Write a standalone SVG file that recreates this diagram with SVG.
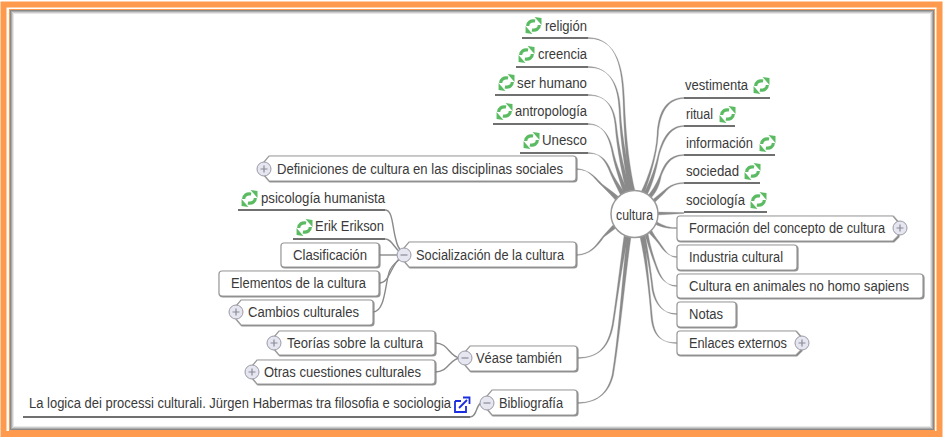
<svg xmlns="http://www.w3.org/2000/svg" width="945" height="441" viewBox="0 0 945 441">
<style>
text{font-family:"Liberation Sans",Arial,sans-serif;font-size:14px;fill:#3a3a3a}
.b{fill:#fff;stroke:#999;stroke-width:1.2;filter:url(#sh)}
.u{stroke:#707070;stroke-width:2;fill:none}
.c{fill:#8a8a8a;stroke:#8a8a8a;stroke-width:.3}
.l{fill:none;stroke:#8a8a8a;stroke-width:1.4}
.t{fill:#e6e6f0;stroke:#9a9aa8;stroke-width:1}
.m{stroke:#8a8a98;stroke-width:1.2;fill:none}
</style>
<defs>
<filter id="sh" x="-5%" y="-10%" width="110%" height="125%"><feDropShadow dx=".8" dy=".8" stdDeviation=".3" flood-color="#777"/></filter>
<symbol id="r" viewBox="0 0 16 16">
<path d="M2.500 8.500C2.500 5 5.500 3 9.500 3.800" fill="none" stroke="#5abb62" stroke-width="3"/>
<path d="M13.500 7.500C13.500 11 10.500 13 6.500 12.200" fill="none" stroke="#5abb62" stroke-width="3"/>
<path d="M9 0L15.500 1V7.500Z" fill="#5abb62"/>
<path d="M7 16L.5 15V8.500Z" fill="#5abb62"/>
</symbol>
<g id="plus"><circle r="7" class="t"/><path class="m" d="M-3.500 0H3.500M0-3.500V3.500"/></g>
<g id="minus"><circle r="7" class="t"/><path class="m" d="M-3.500 0H3.500"/></g>
</defs>
<rect width="945" height="441" fill="#fff"/>
<g id="frame" fill="none">
<rect x="3.500" y="4.500" width="936" height="429.500" stroke="#fd9a4d" stroke-width="6"/>
<rect x="9.500" y="9.500" width="925" height="421" stroke="#fd9a4d" stroke-width="1"/>
<rect x="10.500" y="10.500" width="923" height="419" stroke="#888" stroke-width="1"/>
<rect x="11.500" y="11.500" width="921" height="417" stroke="#aaa" stroke-width="1"/>
<rect x="12.500" y="12.500" width="919" height="415" stroke="#ccc" stroke-width="1"/>
<rect x="13.500" y="13.500" width="917" height="413" stroke="#e8e8e8" stroke-width="1"/>
</g>
<g id="connectors">
<path class="c" d="M588 37.500C618 38 622 70 623 100C624 140 627 170 631 192L635 191C630 170 626 140 624.500 100C623.500 70 618 38 588 38.500Z"/>
<path class="c" d="M588 66.500C610 67 618 85 619 110C620 140 625 170 629 193L633 191C629 170 622 140 620.500 110C619.500 85 610 67 588 67.500Z"/>
<path class="c" d="M588 94.500C605 95 613 105 615 125C617 150 622 175 627 194L631 192C626 175 619 150 616.500 125C614.500 105 605 95 588 95.500Z"/>
<path class="c" d="M588 123.500C602 124 608 135 611 148C614 165 620 182 625 197L629 195C624 182 616 165 612.500 148C609.500 135 602 124 588 124.500Z"/>
<path class="c" d="M588 152.500C600 153 604 160 608 168C612 178 617 188 622 198L626 195C620 186 613 176 609.500 167C605.500 159 600 153 588 153.500Z"/>
<path class="c" d="M576 168.500C590 169 595 180 602 186C608 192 612 196 617 202L620 198C614 193 609 189 603 184.800C596 178 590 169 576 169.500Z"/>
<path class="c" d="M576 254.500C590 255 596 245 603 236L613 225L616 228L604 237C597 247 590 255 576 255.500Z"/>
<path class="c" d="M577 357.500C600 358 608 345 612 325C616 300 620 265 624 236L628 237C622 265 617.500 300 613.500 325C609.500 346 600 358 577 358.500Z"/>
<path class="c" d="M577 402.500C600 403 608 390 612 375C618 340 622 280 627 236L631 237C625 280 619.500 340 613.500 375C609.500 391 600 403 577 403.500Z"/>
<path class="c" d="M677 342.500C660 343 653 335 651 318C649 290 645 260 640 237L644 235C647 260 650 290 652.500 318C654.500 334 660 343 677 343.500Z"/>
<path class="c" d="M677 313.500C663 314 655 305 652 290C650 270 646 250 642 236L645 234C648 250 651 270 653.500 290C656.500 304 663 314 677 314.500Z"/>
<path class="c" d="M677 285.500C665 286 659 277 655 265C651 255 648 245 645 235L648 233C650 245 653 255 656.500 265C660.500 276 665 286 677 286.500Z"/>
<path class="c" d="M677 256.500C668 257 663 250 658 243C654 238 650 234 648 232L651 229C653 233 656 238 659.300 242C664.500 249 668 257 677 257.500Z"/>
<path class="c" d="M677 227.500C668 228 662 225 654 220L653 223C660 227 668 229 677 228.500Z"/>
<path class="c" d="M684 212.500L657 212V215L684 213.500Z"/>
<path class="c" d="M684 182.500C672 183 668 187 662 192L651 201L653 204L663 194.500C669 188 672 184 684 183.500Z"/>
<path class="c" d="M684 154.500C668 155 664 165 660 175C656 185 651 192 647 197L650 199C656 193 659.500 186 661.300 176C665.500 166 670 156 684 155.500Z"/>
<path class="c" d="M684 125.500C668 126 662 140 658 155C654 172 648 185 644 193L647 195C652 186 656 172 659.300 155C663.500 141 670 127 684 126.500Z"/>
<path class="c" d="M684 97.500C664 98 658 115 657 135C656 155 648 178 641 192L644 194C650 178 657 155 658.300 135C659.500 116 666 99 684 98.500Z"/>
<path class="l" d="M385 210C393 210 392 226 396 240C397 245 399 249 402 252"/>
<path class="l" d="M385 239C392 239 393 247 401 253"/>
<path class="l" d="M379 255H401"/>
<path class="l" d="M379 283C390 283 390 266 401 257"/>
<path class="l" d="M373 312C386 312 385 280 390 270C393 264 397 261 402 258"/>
<path class="l" d="M435 343C449 343 449 357 460 358"/>
<path class="l" d="M435 372C449 372 449 359 460 358"/>
<path class="l" d="M470 417C477 417 476 405 481 403"/>
</g>
<g id="n-cultura"><circle cx="634.500" cy="214" r="23.500" fill="#fff" stroke="#999" stroke-width="1.500"/><text x="616" y="220" textLength="37" lengthAdjust="spacingAndGlyphs">cultura</text></g>
<g id="n-religion"><path class="u" d="M522 38H588"/><use href="#r" x="525" y="17" width="17" height="17"/><text x="545" y="31" textLength="42" lengthAdjust="spacingAndGlyphs">religión</text></g>
<g id="n-creencia"><path class="u" d="M516 67H588"/><use href="#r" x="518" y="46" width="17" height="17"/><text x="538" y="59" textLength="49" lengthAdjust="spacingAndGlyphs">creencia</text></g>
<g id="n-serhumano"><path class="u" d="M495 95H588"/><use href="#r" x="498" y="74" width="17" height="17"/><text x="517" y="88" textLength="70" lengthAdjust="spacingAndGlyphs">ser humano</text></g>
<g id="n-antropologia"><path class="u" d="M493 124H588"/><use href="#r" x="496" y="103" width="17" height="17"/><text x="515" y="116" textLength="72" lengthAdjust="spacingAndGlyphs">antropología</text></g>
<g id="n-unesco"><path class="u" d="M520 153H588"/><use href="#r" x="523" y="132" width="17" height="17"/><text x="542" y="145" textLength="45" lengthAdjust="spacingAndGlyphs">Unesco</text></g>
<g id="n-vestimenta"><path class="u" d="M684 98H770"/><use href="#r" x="753" y="77" width="17" height="17"/><text x="685" y="90" textLength="63" lengthAdjust="spacingAndGlyphs">vestimenta</text></g>
<g id="n-ritual"><path class="u" d="M684 126H735"/><use href="#r" x="719" y="106" width="17" height="17"/><text x="686" y="119" textLength="27" lengthAdjust="spacingAndGlyphs">ritual</text></g>
<g id="n-informacion"><path class="u" d="M684 155H775"/><use href="#r" x="759" y="135" width="17" height="17"/><text x="686" y="148" textLength="67" lengthAdjust="spacingAndGlyphs">información</text></g>
<g id="n-sociedad"><path class="u" d="M684 183H760"/><use href="#r" x="744" y="163" width="17" height="17"/><text x="686" y="176" textLength="53" lengthAdjust="spacingAndGlyphs">sociedad</text></g>
<g id="n-sociologia"><path class="u" d="M684 212H767"/><use href="#r" x="750" y="192" width="17" height="17"/><text x="686" y="205" textLength="59" lengthAdjust="spacingAndGlyphs">sociología</text></g>
<g id="n-formacion"><path class="b" d="M680 216H893L898 222V236L893 241H680Q677 241 677 238V219Q677 216 680 216Z"/><text x="689" y="233" textLength="196" lengthAdjust="spacingAndGlyphs">Formación del concepto de cultura</text><use href="#plus" x="900" y="228"/></g>
<g id="n-industria"><rect class="b" x="677" y="245" width="120" height="25" rx="3"/><text x="689" y="262" textLength="94" lengthAdjust="spacingAndGlyphs">Industria cultural</text></g>
<g id="n-animales"><rect class="b" x="677" y="274" width="246" height="24" rx="3"/><text x="689" y="291" textLength="220" lengthAdjust="spacingAndGlyphs">Cultura en animales no homo sapiens</text></g>
<g id="n-notas"><rect class="b" x="677" y="302" width="59" height="25" rx="3"/><text x="689" y="319" textLength="34" lengthAdjust="spacingAndGlyphs">Notas</text></g>
<g id="n-enlaces"><path class="b" d="M680 331H796L801 337V350L796 355H680Q677 355 677 352V334Q677 331 680 331Z"/><text x="689" y="348" textLength="98" lengthAdjust="spacingAndGlyphs">Enlaces externos</text><use href="#plus" x="802" y="343"/></g>
<g id="n-definiciones"><path class="b" d="M269 156H573Q576 156 576 159V178Q576 181 573 181H269L264 175V162Z"/><text x="277" y="174" textLength="286" lengthAdjust="spacingAndGlyphs">Definiciones de cultura en las disciplinas sociales</text><use href="#plus" x="264" y="169"/></g>
<g id="n-socializacion"><path class="b" d="M409 242H573Q576 242 576 245V264Q576 267 573 267H409L404 261V248Z"/><text x="416" y="260" textLength="148" lengthAdjust="spacingAndGlyphs">Socialización de la cultura</text><use href="#minus" x="404" y="255"/></g>
<g id="n-psicologia"><path class="u" d="M238 210H385"/><use href="#r" x="241" y="190" width="17" height="17"/><text x="261" y="203" textLength="124" lengthAdjust="spacingAndGlyphs">psicología humanista</text></g>
<g id="n-erik"><path class="u" d="M293 239H385"/><use href="#r" x="296" y="219" width="17" height="17"/><text x="315" y="231" textLength="69" lengthAdjust="spacingAndGlyphs">Erik Erikson</text></g>
<g id="n-clasificacion"><rect class="b" x="281" y="243" width="98" height="24" rx="3"/><text x="293" y="260" textLength="74" lengthAdjust="spacingAndGlyphs">Clasificación</text></g>
<g id="n-elementos"><rect class="b" x="219" y="271" width="160" height="25" rx="3"/><text x="231" y="288" textLength="135" lengthAdjust="spacingAndGlyphs">Elementos de la cultura</text></g>
<g id="n-cambios"><path class="b" d="M241 300H370Q373 300 373 303V322Q373 325 370 325H241L236 319V306Z"/><text x="248" y="317" textLength="111" lengthAdjust="spacingAndGlyphs">Cambios culturales</text><use href="#plus" x="236" y="312"/></g>
<g id="n-teorias"><path class="b" d="M279 331H432Q435 331 435 334V352Q435 355 432 355H279L274 349V337Z"/><text x="287" y="348" textLength="136" lengthAdjust="spacingAndGlyphs">Teorías sobre la cultura</text><use href="#plus" x="274" y="343"/></g>
<g id="n-otras"><path class="b" d="M257 360H432Q435 360 435 363V381Q435 384 432 384H257L252 378V366Z"/><text x="264" y="377" textLength="157" lengthAdjust="spacingAndGlyphs">Otras cuestiones culturales</text><use href="#plus" x="252" y="372"/></g>
<g id="n-vease"><path class="b" d="M470 346H574Q577 346 577 349V368Q577 371 574 371H470L465 365V352Z"/><text x="476" y="363" textLength="86" lengthAdjust="spacingAndGlyphs">Véase también</text><use href="#minus" x="465" y="358"/></g>
<g id="n-bibliografia"><path class="b" d="M492 390H574Q577 390 577 393V412Q577 415 574 415H492L487 409V396Z"/><text x="499" y="408" textLength="64" lengthAdjust="spacingAndGlyphs">Bibliografía</text><use href="#minus" x="487" y="403"/></g>
<g id="n-logica"><path class="u" d="M23 417H470"/><text x="29" y="408" textLength="422" lengthAdjust="spacingAndGlyphs">La logica dei processi culturali. Jürgen Habermas tra filosofia e sociologia</text>
<path d="M455 401H461M455 401V412H466V406" fill="none" stroke="#1a2ee0" stroke-width="1.800"/><path d="M459 408L467 400M463 397.500H469.500V404" fill="none" stroke="#1a2ee0" stroke-width="1.800"/></g>
</svg>
